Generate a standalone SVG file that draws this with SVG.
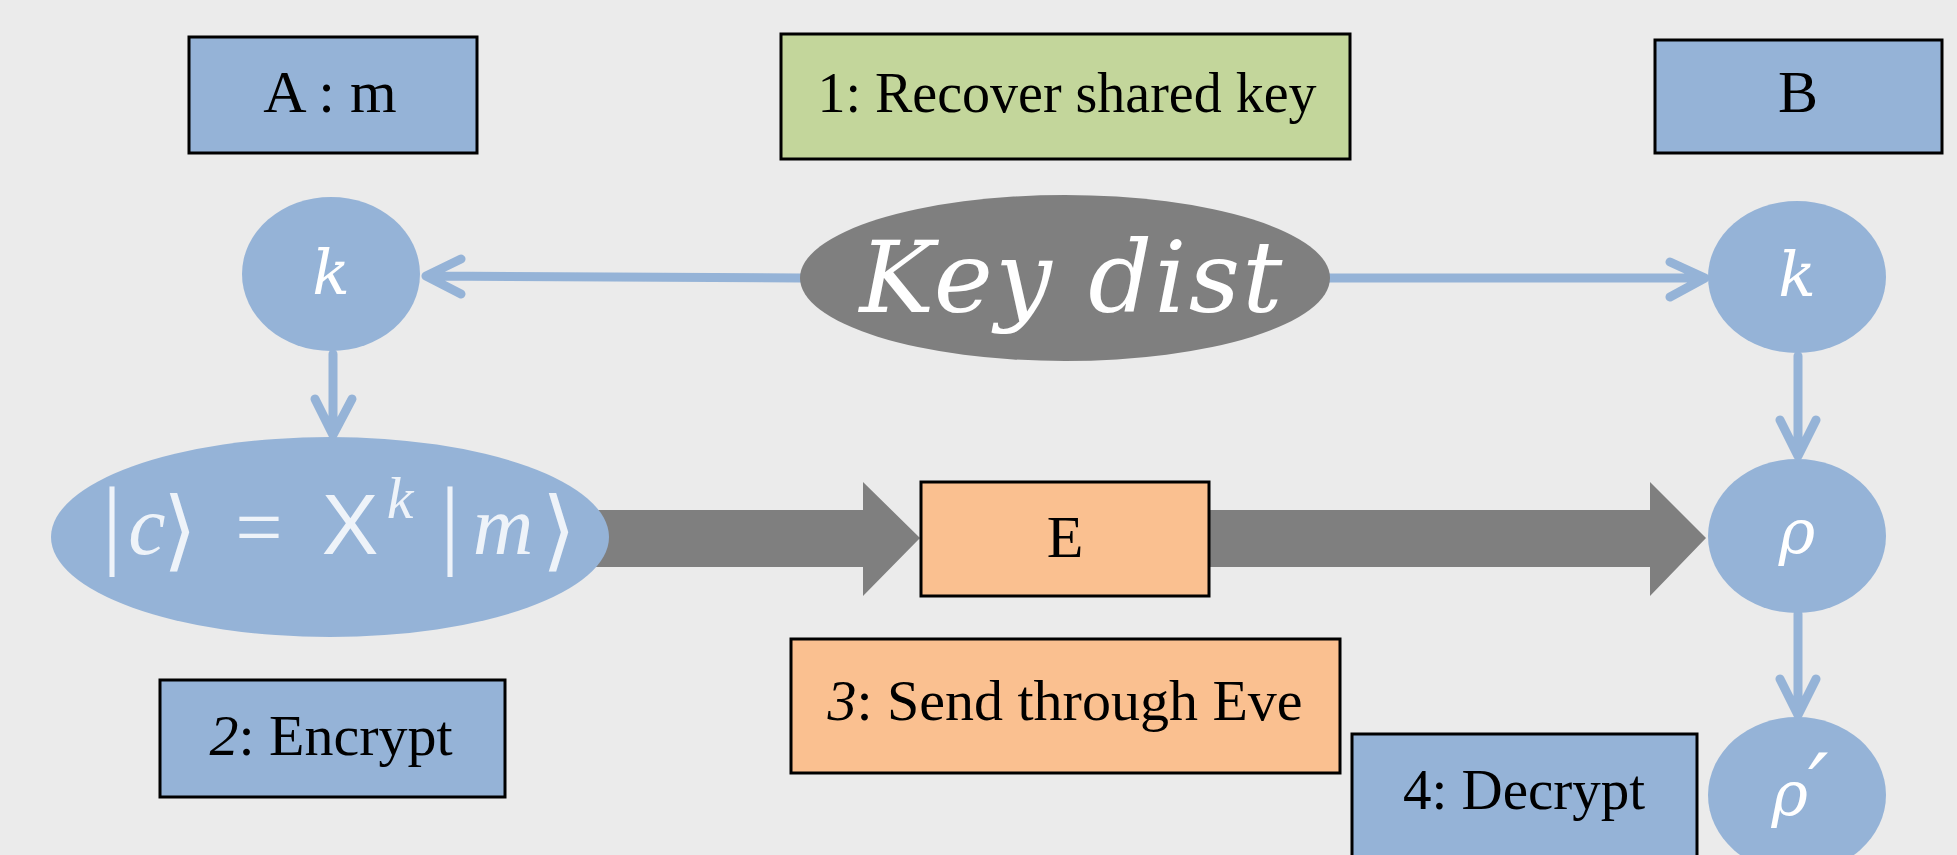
<svg xmlns="http://www.w3.org/2000/svg" width="1957" height="855" viewBox="0 0 1957 855">
<style>
.box{stroke:#000;stroke-width:3}
.blue{fill:#95b3d7}
.green{fill:#c3d69b}
.orange{fill:#fac090}
.gray{fill:#7f7f7f}
.lbl{font-family:"Liberation Serif","Times New Roman",serif;fill:#000;text-anchor:middle}
.math{font-family:"DejaVu Serif",serif;font-style:italic;fill:#fff;text-anchor:middle}
.eq{fill:#eef3f9;text-anchor:middle}
.conn{stroke:#95b3d7;stroke-width:9;stroke-linecap:round;stroke-linejoin:round;fill:none}
</style>
<rect width="1957" height="855" fill="#ebebeb"/>
<g id="connectors">
  <polygon class="gray" points="590,510 863,510 863,482 920,538 863,596 863,567 590,567"/>
  <polygon class="gray" points="1205,510 1650,510 1650,482 1706,538 1650,596 1650,567 1205,567"/>
  <path class="conn" d="M800,278 L428,276 M461,259 L426,276 L461,294"/>
  <path class="conn" d="M1329,278 L1703,278 M1670,262 L1705,278 L1670,297"/>
  <path class="conn" d="M333,354 L333,432 M315,399 L333,435 L352,399"/>
  <path class="conn" d="M1798,356 L1798,454 M1780,420 L1798,456 L1816,420"/>
  <path class="conn" d="M1798,614 L1798,713 M1780,679 L1798,715 L1816,679"/>
</g>
<g id="node-am">
  <rect class="box blue" x="189" y="37" width="288" height="116"/>
  <text class="lbl" x="330" y="112" font-size="60">A : m</text>
</g>
<g id="node-recover">
  <rect class="box green" x="781" y="34" width="569" height="125"/>
  <text class="lbl" x="1067" y="112" font-size="56">1: Recover shared key</text>
</g>
<g id="node-b">
  <rect class="box blue" x="1655" y="40" width="287" height="113"/>
  <text class="lbl" x="1798" y="112" font-size="60">B</text>
</g>
<g id="node-ka">
  <ellipse class="blue" cx="331" cy="274" rx="89" ry="77"/>
  <text class="math" x="331" y="294" font-size="62">k</text>
</g>
<g id="node-keydist">
  <ellipse class="gray" cx="1065" cy="278" rx="265" ry="83"/>
  <text class="math" x="1071" y="312" font-size="100" textLength="423" lengthAdjust="spacing">Key dist</text>
</g>
<g id="node-kb">
  <ellipse class="blue" cx="1797" cy="277" rx="89" ry="76"/>
  <text class="math" x="1797" y="296" font-size="62">k</text>
</g>
<g id="node-cipher">
  <ellipse class="blue" cx="330" cy="537" rx="279" ry="100"/>
  <g class="eq">
    <text x="112" y="556" font-size="100" font-family="Liberation Serif,serif">|</text>
    <text x="147" y="554" font-size="84" font-family="Liberation Serif,serif" font-style="italic">c</text>
    <text x="180" y="560" font-size="88" font-family="DejaVu Serif,serif">⟩</text>
    <text x="259" y="556" font-size="84" font-family="Liberation Serif,serif">=</text>
    <text x="350" y="554" font-size="85" font-family="Liberation Sans,sans-serif">X</text>
    <text x="400" y="518" font-size="60" font-family="Liberation Serif,serif" font-style="italic">k</text>
    <text x="450" y="556" font-size="100" font-family="Liberation Serif,serif">|</text>
    <text x="503" y="554" font-size="84" font-family="Liberation Serif,serif" font-style="italic">m</text>
    <text x="559" y="560" font-size="88" font-family="DejaVu Serif,serif">⟩</text>
  </g>
</g>
<g id="node-e">
  <rect class="box orange" x="921" y="482" width="288" height="114"/>
  <text class="lbl" x="1065" y="557" font-size="60">E</text>
</g>
<g id="node-rho">
  <ellipse class="blue" cx="1797" cy="536" rx="89" ry="77"/>
  <text class="math" x="1797" y="553" font-size="62">ρ</text>
</g>
<g id="node-encrypt">
  <rect class="box blue" x="160" y="680" width="345" height="117"/>
  <text class="lbl" x="331" y="755" font-size="58"><tspan font-style="italic">2</tspan>: Encrypt</text>
</g>
<g id="node-send">
  <rect class="box orange" x="791" y="639" width="549" height="134"/>
  <text class="lbl" x="1065" y="720" font-size="58"><tspan font-style="italic">3</tspan>: Send through Eve</text>
</g>
<g id="node-decrypt">
  <rect class="box blue" x="1352" y="734" width="345" height="123"/>
  <text class="lbl" x="1524" y="809" font-size="57">4: Decrypt</text>
</g>
<g id="node-rhop">
  <ellipse class="blue" cx="1797" cy="795" rx="89" ry="78"/>
  <text class="math" x="1800" y="815" font-size="62">ρ<tspan font-family="DejaVu Sans,sans-serif" font-size="90" dy="4">′</tspan></text>
</g>
</svg>
